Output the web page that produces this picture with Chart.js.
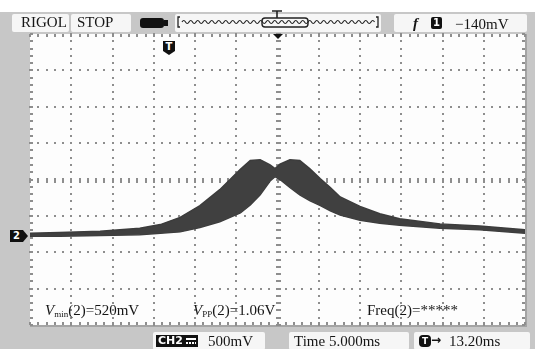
<!DOCTYPE html>
<html>
<head>
<meta charset="utf-8">
<script src="https://cdn.jsdelivr.net/npm/chart.js@4.4.1/dist/chart.umd.min.js"></script>
<style>
  html, body { margin: 0; padding: 0; }
  body { width: 535px; height: 349px; position: relative; overflow: hidden; background: #fff; font-family: "Liberation Serif", serif; color: #151515; }
  #frame { position: absolute; left: 0; top: 12px; width: 535px; height: 337px; background: #c7c7c7; }
  #chartWrap { position: absolute; left: 0; top: 0; width: 535px; height: 349px; }
  .box { position: absolute; background: #f6f6f6; border-radius: 2px; box-sizing: border-box; font-size: 15px; line-height: 17px; white-space: nowrap; }
  .txt { position: absolute; font-size: 15px; line-height: 15px; white-space: nowrap; }
  .txt sub { font-size: 9px; vertical-align: -2px; line-height: 0; }
</style>
</head>
<body>
<div id="frame"></div>
<div id="chartWrap"><canvas id="scope"></canvas></div>

<!-- top status bar -->
<div class="box" style="left:12px;top:14px;width:57px;height:18px;padding-left:9px">RIGOL</div>
<div class="box" style="left:71px;top:14px;width:60px;height:18px;padding-left:6px">STOP</div>
<div style="position:absolute;left:140px;top:18px;width:24px;height:10px;background:#111;border-radius:3px"></div>
<div style="position:absolute;left:164px;top:20px;width:4px;height:6px;background:#111"></div>
<svg id="memBar" style="position:absolute;left:174px;top:9px" width="208" height="24"></svg>
<div class="box" style="left:394px;top:14px;width:133px;height:18px"></div>
<div class="txt" style="left:413px;top:16px;font-weight:bold;font-style:italic">f</div>
<div style="position:absolute;left:431px;top:17px;width:11px;height:12px;background:#111;border-radius:2px;color:#fff;font:bold 10px 'DejaVu Sans';text-align:center;line-height:12px">1</div>
<div class="txt" style="left:455px;top:17px">&minus;140mV</div>

<!-- markers on the screen -->
<div style="position:absolute;left:163px;top:41px;width:12px;height:14px;background:#111;clip-path:polygon(0 0,100% 0,100% 72%,50% 100%,0 72%);color:#fff;font:bold 10px 'DejaVu Sans';text-align:center;line-height:12px">T</div>
<div style="position:absolute;left:273px;top:34px;width:0;height:0;border-left:5px solid transparent;border-right:5px solid transparent;border-top:5px solid #111"></div>
<div style="position:absolute;left:10px;top:230px;width:18px;height:12px;background:#111;clip-path:polygon(0 0,72% 0,100% 50%,72% 100%,0 100%);color:#fff;font:bold 10px 'DejaVu Sans';line-height:12px;padding-left:3px;box-sizing:border-box">2</div>

<!-- measurements -->
<div class="txt" style="left:45px;top:303px"><i>V</i><sub>min</sub>(2)=520mV</div>
<div class="txt" style="left:193px;top:303px"><i>V</i><sub>PP</sub>(2)=1.06V</div>
<div class="txt" style="left:367px;top:303px">Freq(2)=*****</div>

<!-- bottom bar -->
<div class="box" style="left:153px;top:332px;width:112px;height:18px"></div>
<div style="position:absolute;left:156px;top:335px;width:42px;height:12px;background:#111;color:#fff;font:bold 11px 'DejaVu Sans';line-height:12px;padding-left:2px;box-sizing:border-box">CH2</div>
<div style="position:absolute;left:186px;top:338px;width:10px;height:1.5px;background:#fff"></div>
<div style="position:absolute;left:186px;top:342px;width:10px;height:1.5px;background:repeating-linear-gradient(90deg,#fff 0 2px,#111 2px 3px)"></div>
<div class="txt" style="left:208px;top:334px">500mV</div>
<div class="box" style="left:289px;top:332px;width:120px;height:18px;padding-left:5px;padding-top:1px">Time 5.000ms</div>
<div class="box" style="left:414px;top:332px;width:116px;height:18px"></div>
<div style="position:absolute;left:419px;top:335px;width:12px;height:12px;background:#111;border-radius:4px;color:#fff;font:bold 9px 'DejaVu Sans';text-align:center;line-height:12px">T</div>
<div style="position:absolute;left:431px;top:333px;font:bold 12px 'DejaVu Sans';line-height:15px">&#8594;</div>
<div class="txt" style="left:449px;top:334px">13.20ms</div>

<script>
// screen divisions: 5 ms/div horizontally, 0.5 V/div vertically (relative to screen centre)
const timeDivs = [-30, -25, -20, -15, -10, -5, 0, 5, 10, 15, 20, 25, 30];
const voltDivs = [-2, -1.5, -1, -0.5, 0, 0.5, 1, 1.5, 2];

// envelope of the captured trace (CH2)
const timeMs = [-30.0, -26.4, -21.5, -16.7, -14.2, -11.8, -9.4, -7.0, -4.5, -3.3, -2.1, -0.9, -0.3,
                0.3, 1.5, 2.7, 3.9, 5.2, 6.4, 7.6, 10.0, 12.4, 14.8, 19.7, 24.5, 30.0];
const upperV = [-0.74, -0.73, -0.71, -0.67, -0.62, -0.52, -0.36, -0.14, 0.14, 0.26, 0.27, 0.20, 0.15,
                0.21, 0.27, 0.26, 0.15, 0.01, -0.11, -0.24, -0.37, -0.47, -0.54, -0.61, -0.64, -0.69];
const lowerV = [-0.78, -0.78, -0.77, -0.76, -0.74, -0.72, -0.66, -0.58, -0.46, -0.35, -0.21, -0.02, 0.04,
                0.00, -0.11, -0.21, -0.29, -0.36, -0.43, -0.49, -0.56, -0.60, -0.63, -0.67, -0.69, -0.74];

// --- memory bar with the wavy trace ---
(function drawMemBar() {
    const svg = document.getElementById('memBar');
    let path = 'M 8 13';
    for (let x = 8; x < 200; x += 3.5) {
        const up = Math.round((x - 8) / 3.5) % 2 === 0;
        path += ` Q ${x + 1.75} ${up ? 10 : 16} ${x + 3.5} 13`;
    }
    svg.innerHTML =
        '<rect x="1" y="5" width="206" height="18" rx="2" fill="#f6f6f6"/>' +
        '<path d="' + path + '" fill="none" stroke="#222" stroke-width="1.2"/>' +
        '<path d="M 6 8 L 4 8 L 4 18 L 6 18 M 202 8 L 204 8 L 204 18 L 202 18" fill="none" stroke="#222" stroke-width="1.3"/>' +
        '<rect x="88" y="9" width="46" height="9" rx="3" fill="none" stroke="#222" stroke-width="1.4"/>' +
        '<path d="M 98 2 L 108 2 M 103 2 L 103 9" stroke="#222" stroke-width="1.6"/>';
})();

// --- oscilloscope graticule ---
const scopeGrid = {
    id: 'scopeGrid',
    beforeDraw(chart) {
        const { ctx, chartArea: a } = chart;
        ctx.save();
        ctx.fillStyle = '#fdfdfd';
        ctx.fillRect(a.left, a.top, a.right - a.left, a.bottom - a.top);
        ctx.fillStyle = '#a4a4a4';
        ctx.fillRect(a.right, a.top, 2, a.bottom - a.top + 2);
        ctx.fillRect(a.left, a.bottom, a.right - a.left + 2, 2);
        ctx.restore();
    },
    beforeDatasetsDraw(chart) {
        const { ctx, scales: { x, y } } = chart;
        const xFirst = timeDivs[0], xLast = timeDivs[timeDivs.length - 1];
        const yFirst = voltDivs[0], yLast = voltDivs[voltDivs.length - 1];
        const xMinor = [], yMinor = [];
        for (let k = 0; k <= (xLast - xFirst); k++) xMinor.push(xFirst + k);
        for (let k = 0; k <= Math.round((yLast - yFirst) * 10); k++) yMinor.push(yFirst + k / 10);
        ctx.save();
        ctx.fillStyle = '#8e8e8e';
        timeDivs.forEach(t => {
            const X = Math.round(x.getPixelForValue(t));
            yMinor.forEach(v => {
                const Y = Math.round(y.getPixelForValue(v));
                if (t === 0) ctx.fillRect(X - 2, Y - 1, 5, 2);
                else if (t === xFirst) ctx.fillRect(X, Y - 1, 3, 2);
                else if (t === xLast) ctx.fillRect(X - 3, Y - 1, 3, 2);
                else ctx.fillRect(X - 1, Y - 1, 2, 2);
            });
        });
        voltDivs.forEach(v => {
            const Y = Math.round(y.getPixelForValue(v));
            xMinor.forEach(t => {
                const X = Math.round(x.getPixelForValue(t));
                if (v === 0) ctx.fillRect(X - 1, Y - 2, 2, 5);
                else if (v === yLast) ctx.fillRect(X - 1, Y, 2, 3);
                else if (v === yFirst) ctx.fillRect(X - 1, Y - 3, 2, 3);
                else ctx.fillRect(X - 1, Y - 1, 2, 2);
            });
        });
        ctx.restore();
    }
};

const ctx = document.getElementById('scope').getContext('2d');
new Chart(ctx, {
    type: 'line',
    data: {
        datasets: [{
            label: 'CH2 upper',
            data: timeMs.map((t, i) => ({ x: t, y: upperV[i] })),
            borderColor: '#3c3c3c',
            backgroundColor: '#404040',
            borderWidth: 1.5,
            pointRadius: 0,
            fill: '+1',
            tension: 0
        }, {
            label: 'CH2 lower',
            data: timeMs.map((t, i) => ({ x: t, y: lowerV[i] })),
            borderColor: '#3c3c3c',
            borderWidth: 1.5,
            pointRadius: 0,
            fill: false,
            tension: 0
        }]
    },
    options: {
        responsive: true,
        maintainAspectRatio: false,
        animation: false,
        layout: { padding: { left: 30, right: 10, top: 34, bottom: 24 } },
        plugins: { legend: { display: false }, tooltip: { enabled: false } },
        scales: {
            x: { type: 'linear', min: timeDivs[0], max: timeDivs[timeDivs.length - 1], display: false },
            y: { type: 'linear', min: voltDivs[0], max: voltDivs[voltDivs.length - 1], display: false }
        }
    },
    plugins: [scopeGrid]
});
</script>
</body>
</html>
